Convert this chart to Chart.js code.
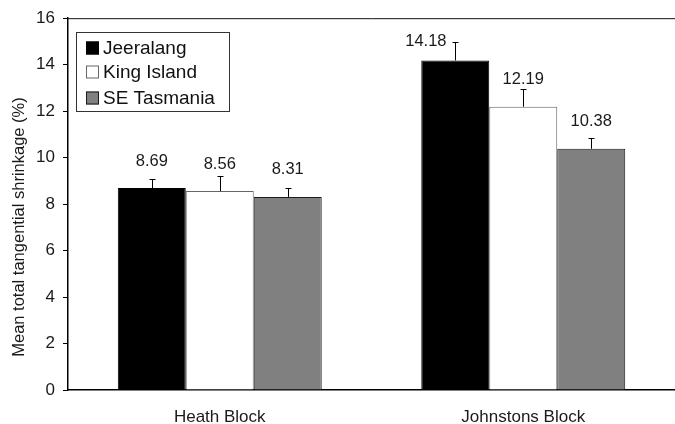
<!DOCTYPE html>
<html>
<head>
<meta charset="utf-8">
<script src="https://cdn.jsdelivr.net/npm/chart.js@4/dist/chart.umd.min.js"></script>
<style>
  html, body { margin: 0; padding: 0; background: #fff; }
  #wrap { width: 675px; height: 424px; position: relative; }
</style>
</head>
<body>
<div id="wrap"><canvas id="c" width="675" height="424"></canvas></div>
<script>
// Sites compared, per block
const categories = ['Heath Block', 'Johnstons Block'];
const seriesNames = ['Jeeralang', 'King Island', 'SE Tasmania'];

// Mean total tangential shrinkage (%)
const jeeralang = [8.69, 14.18];
const kingIsland = [8.56, 12.19];
const seTasmania = [8.31, 10.38];

// Standard errors (upper whisker only)
const jeeralangErr = [0.39, 0.79];
const kingIslandErr = [0.66, 0.78];
const seTasmaniaErr = [0.37, 0.47];

const yAxisTitle = 'Mean total tangential shrinkage (%)';
const FONT = '"Liberation Sans", Arial, Helvetica, sans-serif';

const errs = [jeeralangErr, kingIslandErr, seTasmaniaErr];

// Whiskers, value labels, legend box, top frame line and y title
const decorations = {
  id: 'decorations',
  afterDatasetsDraw(chart, args, opts) {
    const ctx = chart.ctx;
    const y = chart.scales.y;
    const area = chart.chartArea;
    const beside = opts.besideWhisker || [];
    ctx.save();

    // top frame line
    ctx.strokeStyle = '#111';
    ctx.lineWidth = 1;
    ctx.beginPath();
    ctx.moveTo(area.left, area.top + 0.5);
    ctx.lineTo(area.right, area.top + 0.5);
    ctx.stroke();

    chart.data.datasets.forEach((ds, di) => {
      const meta = chart.getDatasetMeta(di);
      meta.data.forEach((bar, i) => {
        const v = ds.data[i];
        const e = errs[di][i];
        const x = Math.round(bar.x) + 0.5;
        const yTop = y.getPixelForValue(v);
        const yErr = Math.round(y.getPixelForValue(v + e)) + 0.5;
        // whisker
        ctx.strokeStyle = '#000';
        ctx.lineWidth = 1;
        ctx.beginPath();
        ctx.moveTo(x, yTop);
        ctx.lineTo(x, yErr);
        ctx.moveTo(x - 3, yErr);
        ctx.lineTo(x + 3, yErr);
        ctx.stroke();

        // value label
        ctx.fillStyle = '#1a1a1a';
        ctx.font = '16.5px ' + FONT;
        ctx.textBaseline = 'middle';
        const txt = v.toFixed(2);
        if (beside.some(p => p[0] === di && p[1] === i)) {
          ctx.textAlign = 'right';
          ctx.fillText(txt, x - 9, yErr - 1);
        } else {
          ctx.textAlign = 'center';
          ctx.fillText(txt, bar.x, yTop - 27);
        }
      });
    });

    // legend box
    const lx = 76.5, ly = 32.5, lw = 153, lh = 79;
    ctx.strokeStyle = '#333';
    ctx.lineWidth = 1;
    ctx.fillStyle = '#fff';
    ctx.fillRect(lx, ly, lw, lh);
    ctx.strokeRect(lx, ly, lw, lh);
    const rows = [48, 72, 98];
    chart.data.datasets.forEach((ds, di) => {
      const cy = rows[di];
      ctx.fillStyle = ds.backgroundColor;
      ctx.fillRect(86, cy - 6.5, 13, 13);
      ctx.strokeStyle = ds.borderColor;
      ctx.strokeRect(86.5, cy - 6, 12, 12);
      ctx.fillStyle = '#111';
      ctx.font = '19px ' + FONT;
      ctx.textAlign = 'left';
      ctx.textBaseline = 'middle';
      ctx.fillText(ds.label, 103, cy + 1);
    });

    // y axis title
    ctx.save();
    ctx.translate(19, 227);
    ctx.rotate(-Math.PI / 2);
    ctx.fillStyle = '#1a1a1a';
    ctx.font = '16.5px ' + FONT;
    ctx.textAlign = 'center';
    ctx.textBaseline = 'middle';
    ctx.fillText(yAxisTitle, 0, 0);
    ctx.restore();

    ctx.restore();
  }
};

new Chart(document.getElementById('c'), {
  type: 'bar',
  data: {
    labels: categories,
    datasets: [
      { label: seriesNames[0], data: jeeralang, backgroundColor: '#000000', borderColor: '#000000' },
      { label: seriesNames[1], data: kingIsland, backgroundColor: '#ffffff', borderColor: '#666666' },
      { label: seriesNames[2], data: seTasmania, backgroundColor: '#808080', borderColor: '#1a1a1a' }
    ].map(d => Object.assign(d, { borderWidth: 1, borderSkipped: 'bottom', categoryPercentage: 0.672, barPercentage: 1 }))
  },
  options: {
    responsive: false,
    animation: false,
    devicePixelRatio: 1,
    layout: { padding: { top: 17, right: 0, bottom: 0, left: 0 } },
    plugins: {
      legend: { display: false },
      tooltip: { enabled: false },
      title: { display: false },
      // [dataset, index] of labels set to the left of their whisker
      decorations: { besideWhisker: [[0, 1]] }
    },
    scales: {
      x: {
        grid: { display: false },
        border: { display: true, color: '#000', width: 1.5 },
        ticks: { color: '#1a1a1a', font: { family: FONT, size: 17 }, padding: 9 },
        afterFit(scale) { scale.height = 34; }
      },
      y: {
        min: 0, max: 16,
        grid: { display: true, drawOnChartArea: false, drawTicks: true, tickLength: 5, color: '#000' },
        border: { display: true, color: '#000', width: 1.5 },
        ticks: { stepSize: 2, color: '#1a1a1a', font: { family: FONT, size: 17 }, padding: 8 },
        afterFit(scale) { scale.width = 68; }
      }
    }
  },
  plugins: [decorations]
});
</script>
</body>
</html>
